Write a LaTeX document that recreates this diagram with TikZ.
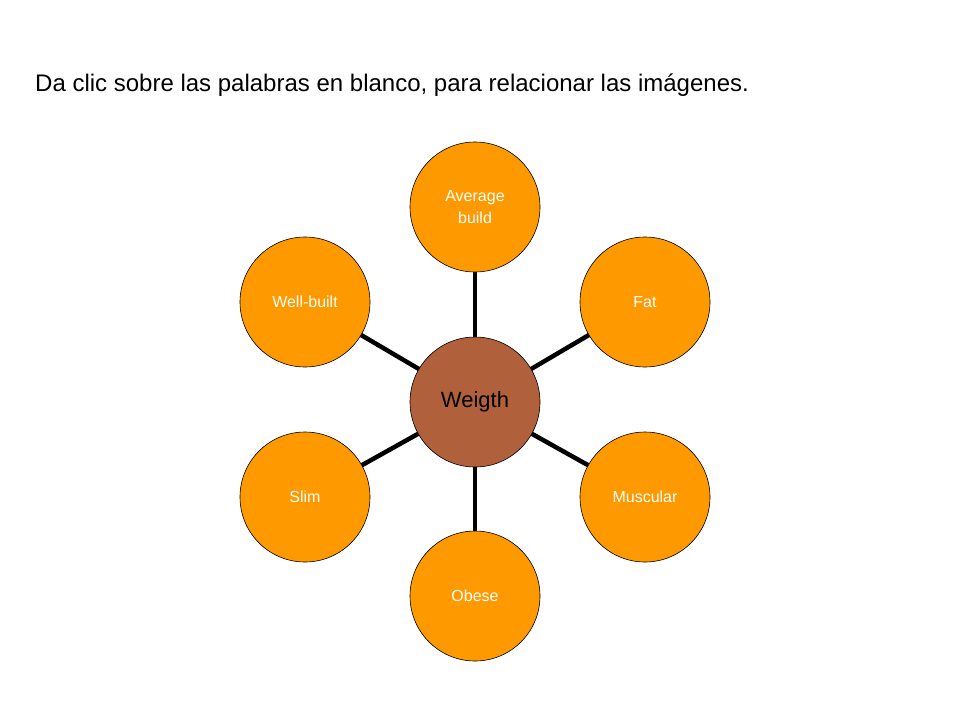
\documentclass[tikz,border=0pt]{standalone}
\usepackage{fontspec}
\setmainfont{Liberation Sans}
\begin{document}
\begin{tikzpicture}[x=1pt,y=-1pt,
  outer/.style={circle,draw=black,line width=0.6pt,fill=orangeC,minimum size=130pt,inner sep=0pt,text=white,font=\fontsize{16}{22}\selectfont,align=center},
  hub/.style={circle,draw=black,line width=0.6pt,fill=hubC,minimum size=130pt,inner sep=0pt,font=\fontsize{22}{26}\selectfont},
  spoke/.style={line width=4.5pt,black}]
\definecolor{orangeC}{HTML}{FF9900}
\definecolor{hubC}{HTML}{B0603A}
\useasboundingbox (0,0) rectangle (960,720);
\node[anchor=west,inner sep=0pt,font=\fontsize{24}{28}\selectfont] (title) at (35,85) {Da clic sobre las palabras en blanco, para relacionar las imágenes.};
\coordinate (c) at (475,402);
\path (475,207) coordinate (p1) (645,302) coordinate (p2) (645,497) coordinate (p3)
      (475,596) coordinate (p4) (305,497) coordinate (p5) (305,302) coordinate (p6);
\foreach \i in {1,...,6} \draw[spoke] (c) -- (p\i);
\node[hub] (w) at (c) {Weigth};
\node[outer] (a) at (p1) {Average\\build};
\node[outer] (f) at (p2) {Fat};
\node[outer] (m) at (p3) {Muscular};
\node[outer] (o) at (p4) {Obese};
\node[outer] (s) at (p5) {Slim};
\node[outer] (wb) at (p6) {Well-built};
\end{tikzpicture}
\end{document}
